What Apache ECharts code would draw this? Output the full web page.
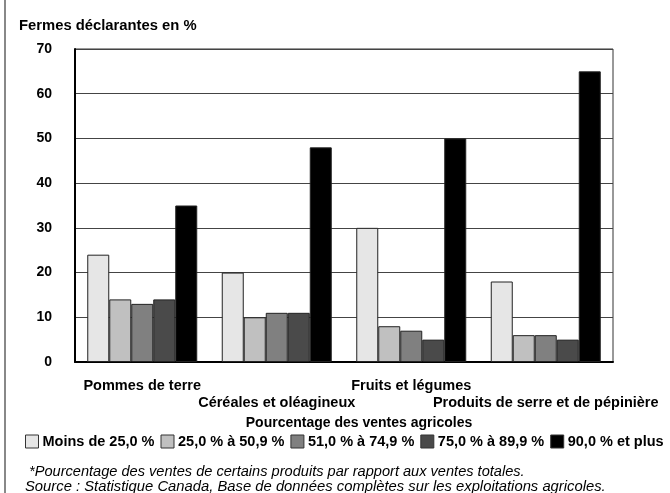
<!DOCTYPE html>
<html>
<head>
<meta charset="utf-8">
<script src="https://cdn.jsdelivr.net/npm/echarts@6/dist/echarts.min.js"></script>
<style>
html,body{margin:0;padding:0;background:#fff;}
#c{width:670px;height:493px;}
</style>
</head>
<body>
<div id="c"></div>
<script>
const categories = ['Pommes de terre', 'Céréales et oléagineux', 'Fruits et légumes', 'Produits de serre et de pépinière'];
const seriesNames = ['Moins de 25,0 %', '25,0 % à 50,9 %', '51,0 % à 74,9 %', '75,0 % à 89,9 %', '90,0 % et plus'];
const moins25 = [24, 20, 30, 18];
const de25a50 = [14, 10, 8, 6];
const de51a74 = [13, 11, 7, 6];
const de75a89 = [14, 11, 5, 5];
const plus90 = [35, 48, 50, 65];
const yTicks = [0, 10, 20, 30, 40, 50, 60, 70];

const values = [moins25, de25a50, de51a74, de75a89, plus90];
const colors = ['#e6e6e6', '#c0c0c0', '#808080', '#4a4a4a', '#000000'];
const FONT = 'Liberation Sans, Arial, Helvetica, sans-serif';

const chart = echarts.init(document.getElementById('c'), null, {renderer: 'canvas'});
chart.setOption({
  backgroundColor: '#fff',
  animation: false,
  textStyle: {fontFamily: FONT},
  title: [
    {text: 'Fermes déclarantes en %', left: 14, top: 13,
     textStyle: {fontFamily: FONT, fontSize: 14.8, fontWeight: 'bold', color: '#000'}},
    {text: '*Pourcentage des ventes de certains produits par rapport aux ventes totales.', left: 24, top: 459,
     textStyle: {fontFamily: FONT, fontSize: 14.6, fontStyle: 'italic', fontWeight: 'normal', color: '#000'}},
    {text: 'Source : Statistique Canada, Base de données complètes sur les exploitations agricoles.', left: 20, top: 474,
     textStyle: {fontFamily: FONT, fontSize: 14.8, fontStyle: 'italic', fontWeight: 'normal', color: '#000'}}
  ],
  graphic: [
    {type: 'line', shape: {x1: 5, y1: 0, x2: 5, y2: 493}, style: {stroke: '#888', lineWidth: 2}}
  ],
  legend: {
    data: seriesNames,
    top: 429,
    left: 20,
    itemWidth: 13,
    itemHeight: 13,
    itemGap: 6,
    icon: 'rect',
    itemStyle: {borderColor: '#333', borderWidth: 1},
    textStyle: {fontFamily: FONT, fontSize: 14.5, fontWeight: 'bold', color: '#000', padding: [0, 0, 0, -1]}
  },
  grid: {left: 75, right: 57, top: 49, bottom: 131, show: true, borderColor: '#333', borderWidth: 1},
  xAxis: {
    type: 'category',
    data: categories,
    name: 'Pourcentage des ventes agricoles',
    nameLocation: 'middle',
    nameGap: 50,
    nameTextStyle: {fontFamily: FONT, fontSize: 14, fontWeight: 'bold', color: '#000', padding: [0, 0, 0, 30]},
    axisLine: {lineStyle: {color: '#000', width: 2}},
    axisTick: {show: false},
    axisLabel: {
      interval: 0,
      margin: 15,
      fontFamily: FONT, fontSize: 14.5, fontWeight: 'bold', color: '#000',
      lineHeight: 17,
      formatter: function (v, i) { return i % 2 ? '\n' + v : v; }
    }
  },
  yAxis: {
    type: 'value',
    min: yTicks[0],
    max: yTicks[yTicks.length - 1],
    interval: 10,
    axisLine: {show: true, lineStyle: {color: '#000', width: 2}},
    axisTick: {show: false},
    splitLine: {lineStyle: {color: '#444', width: 1}},
    axisLabel: {margin: 23, fontFamily: FONT, fontSize: 14, fontWeight: 'bold', color: '#000'}
  },
  series: seriesNames.map(function (n, k) {
    return {
      name: n,
      type: 'bar',
      data: values[k],
      barWidth: 22,
      barGap: '0%',
      itemStyle: {color: colors[k], borderColor: '#222', borderWidth: 1}
    };
  })
});
</script>
</body>
</html>
